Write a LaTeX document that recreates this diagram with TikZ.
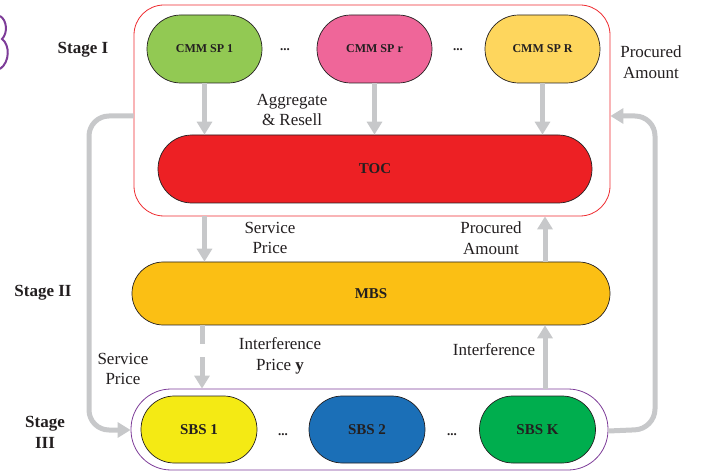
\documentclass[tikz,border=0pt]{standalone}
\usepackage{fontspec}
\setmainfont{Liberation Serif}
\usetikzlibrary{arrows.meta}
\definecolor{cgreen}{HTML}{92C953}
\definecolor{cpink}{HTML}{EF6699}
\definecolor{cyell}{HTML}{FED65D}
\definecolor{cred}{HTML}{ED2024}
\definecolor{corange}{HTML}{FBBF14}
\definecolor{csbsa}{HTML}{F4EA14}
\definecolor{csbsb}{HTML}{1B6FB7}
\definecolor{csbsc}{HTML}{00AE4E}
\definecolor{cgray}{HTML}{C7C8CA}
\definecolor{cbox}{HTML}{EE2B2F}
\definecolor{cpurple}{HTML}{7D3C98}
\definecolor{ctext}{HTML}{231F20}
\tikzset{
  pill/.style={draw=ctext, line width=0.7pt, rounded corners=33.9pt, minimum height=68pt, inner sep=0pt, text=ctext, font=\bfseries\fontsize{15}{15}\selectfont},
  cmm/.style={pill, minimum width=115pt, font=\bfseries\fontsize{12}{12}\selectfont},
  sbs/.style={pill, minimum width=116pt, minimum height=67pt, rounded corners=33.4pt},
  garrow/.style={draw=cgray, line width=5pt, -{Triangle[width=15pt,length=13pt]}},
  lbl/.style={text=ctext, font=\fontsize{17}{20.5}\selectfont, align=center, inner sep=0pt},
  stg/.style={text=ctext, font=\bfseries\fontsize{17}{21}\selectfont, align=center, inner sep=0pt},
  dotsl/.style={text=ctext, font=\bfseries\fontsize{13}{13}\selectfont, inner sep=0pt},
}
\begin{document}
\begin{tikzpicture}[x=1pt,y=-1pt]
\useasboundingbox (0,0) rectangle (702,473);
% purple fragment at left edge
\draw[cpurple, line width=2pt] (0,16) .. controls (7,20) and (8,33) .. (2,39) .. controls (10,45) and (10,62) .. (0,69);
% Stage I box
\node[draw=cbox, line width=0.8pt, rounded corners=30pt, minimum width=476pt, minimum height=211pt, inner sep=0pt] (s1) at (372,110.5) {};
\node[cmm, fill=cgreen] (c1) at (204.5,49) {CMM SP 1};
\node[cmm, fill=cpink] (cr) at (374.5,49) {CMM SP r};
\node[cmm, fill=cyell] (cR) at (542.5,49) {CMM SP R};
\node[dotsl] (d1) at (285,50) {...};
\node[dotsl] (d2) at (458,50) {...};
\node[pill, fill=cred, minimum width=434pt] (toc) at (375,169) {TOC};
% MBS
\node[pill, fill=corange, minimum width=478pt, minimum height=63pt, rounded corners=31.4pt] (mbs) at (371,293.5) {MBS};
% Stage III box
\node[draw=cpurple, line width=0.8pt, rounded corners=40pt, minimum width=477pt, minimum height=81pt, inner sep=0pt] (s3) at (369.5,429.5) {};
\node[sbs, fill=csbsa] (b1) at (199,429.5) {SBS 1};
\node[sbs, fill=csbsb] (b2) at (367,429.5) {SBS 2};
\node[sbs, fill=csbsc] (bK) at (537.5,429.5) {SBS K};
\node[dotsl] (d3) at (283,435) {...};
\node[dotsl] (d4) at (452,435) {...};
% stage labels
\node[stg] (st1) at (83,50) {Stage I};
\node[stg] (st2) at (43,293) {Stage II};
\node[stg] (st3) at (45,432) {Stage\\III};
% arrows inside stage I
\draw[garrow] (c1.south) -- (c1.south |- toc.north);
\draw[garrow] (cr.south) -- (cr.south |- toc.north);
\draw[garrow] (cR.south) -- (cR.south |- toc.north);
% stage I <-> MBS
\draw[garrow] (s1.south -| c1) -- (mbs.north -| c1);
\draw[garrow] (mbs.north -| 545,0) -- (s1.south -| 545,0);
% MBS <-> stage III
\draw[garrow, dash pattern=on 19pt off 13pt] (mbs.south -| 202,0) -- (s3.north -| 202,0);
\draw[garrow] (s3.north -| 545,0) -- (mbs.south -| 545,0);
% loops
\coordinate (la) at (s1.west |- 0,116);
\coordinate (ra) at (s1.east |- 0,116);
\draw[garrow, rounded corners=20pt] (la) -- (89,116) -- (89,430) -- (s3.west |- 0,430);
\draw[garrow, rounded corners=20pt] (s3.east |- 0,431) -- (655,429) -- (655,116) -- (ra);
% labels
\node[lbl] (t1) at (292,110) {Aggregate\\\& Resell};
\node[lbl] (t2) at (651,62) {Procured\\Amount};
\node[lbl] (t3) at (270,238) {Service\\Price};
\node[lbl] (t4) at (491,238) {Procured\\Amount};
\node[lbl] (t5) at (280,356) {Interference\\Price \textbf{y}};
\node[lbl] (t6) at (123,369) {Service\\Price};
\node[lbl] (t7) at (494,350) {Interference};
\end{tikzpicture}
\end{document}
